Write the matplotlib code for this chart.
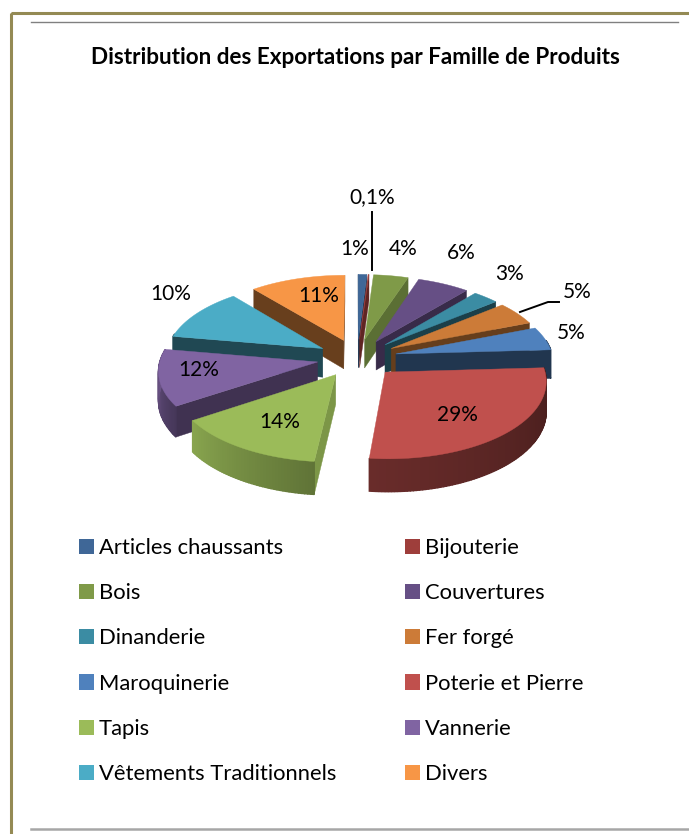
#!/usr/bin/env python3
"""Exploded 3D-look pie of export shares, drawn with polygons in pixel coordinates."""
import matplotlib
matplotlib.use("Agg")
import matplotlib.pyplot as plt
import numpy as np
from matplotlib.colors import to_rgb
from matplotlib.patches import Patch, Polygon, Rectangle

plt.rcParams["font.family"] = ["Lato", "DejaVu Sans"]

TITLE = "Distribution des Exportations par Famille de Produits"
categories = [
    "Articles chaussants", "Bijouterie", "Bois", "Couvertures", "Dinanderie", "Fer forgé",
    "Maroquinerie", "Poterie et Pierre", "Tapis", "Vannerie", "Vêtements Traditionnels", "Divers",
]
shares = [1.0, 0.1, 4.0, 6.0, 3.0, 5.0, 5.0, 27.6, 14.0, 12.0, 11.3, 11.0]
labels = ["1%", "0,1%", "4%", "6%", "3%", "5%", "5%", "29%", "14%", "12%", "10%", "11%"]
colors = ["#3F6797", "#9E3E3B", "#7F9A48", "#664F85", "#3B8CA3", "#CC7B38",
          "#4F81BD", "#C0504D", "#9BBB59", "#8064A2", "#4BACC6", "#F79646"]
wall_tone = [0.55, 0.6, 0.72, 0.55, 0.45, 0.5, 0.42, 0.4, 0.8, 0.5, 0.42, 0.42]
rim_tone = {7: (0.36, 0.55), 8: (0.62, 0.88), 9: (0.55, 0.88)}
label_xy = [(355, 249), (372, 197), (403, 249), (461, 253), (510, 274), (577, 292),
            (571, 333), (457, 415), (280, 422), (199, 370), (171, 294), (319, 296)]

CX, CY = 357, 358
RX, RY = 157, 75
EXPLODE = 0.255
PERSP = 0.1
DEPTH = 29


def project(u, v, drop=0.0):
    s = 1 / (1 + PERSP * v)
    return CX + RX * u * s, CY - RY * v * s + drop * DEPTH * s


def shade(color, tone):
    return tuple(c * tone for c in to_rgb(color))


def cross(a, b):
    return a[0] * b[1] - a[1] * b[0]


def draw_slice(ax, i, a0, a1):
    mid = (a0 + a1) / 2
    ox, oy = EXPLODE * np.sin(mid), EXPLODE * np.cos(mid)
    th = np.linspace(a0, a1, max(4, int(np.degrees(a1 - a0))))
    u = ox + np.sin(th)
    v = oy + np.cos(th)
    tip = np.array(project(ox, oy))
    first = np.array(project(u[0], v[0]))
    last = np.array(project(u[-1], v[-1]))
    wall = shade(colors[i], wall_tone[i])

    # flat cut faces, only where they turn towards the viewer
    for edge, other, ue, ve in ((first, last, u[0], v[0]), (last, first, u[-1], v[-1])):
        d = edge - tip
        if cross(d, (0, 1)) * cross(d, other - tip) < 0:
            quad = [project(ox, oy), project(ue, ve), project(ue, ve, 1), project(ox, oy, 1)]
            ax.add_patch(Polygon(quad, fc=wall, ec=wall, lw=0.3))

    # outer rim, cut into short strips for the gradient
    t0, t1 = rim_tone.get(i, (wall_tone[i], wall_tone[i]))
    for k in range(len(th) - 1):
        if np.cos(th[k]) > 0.2:
            continue
        tone = t0 + (t1 - t0) * k / (len(th) - 1)
        col = shade(colors[i], tone)
        quad = [project(u[k], v[k]), project(u[k + 1], v[k + 1]),
                project(u[k + 1], v[k + 1], 1), project(u[k], v[k], 1)]
        ax.add_patch(Polygon(quad, fc=col, ec=col, lw=1.0))

    top = [project(ox, oy)] + [project(a, b) for a, b in zip(u, v)]
    ax.add_patch(Polygon(top, fc=colors[i], ec=colors[i], lw=0.3))


def main():
    fig = plt.figure(figsize=(6.89, 8.34), dpi=100)
    ax = fig.add_axes([0, 0, 1, 1])
    ax.set_xlim(0, 689)
    ax.set_ylim(834, 0)
    ax.axis("off")

    # page frame and rules
    ax.add_patch(Rectangle((10.5, 12.5), 690, 900, fc="none", ec="#948A54", lw=2.2))
    ax.plot([31, 678], [21.5, 21.5], color="#808080", lw=1.0)
    ax.plot([31, 689], [829, 829], color="#A6A6A6", lw=1.8)

    ax.text(355.5, 57, TITLE, ha="center", va="center", fontsize=16.2, fontweight="bold", color="black")

    edges = np.radians(np.cumsum([0] + shares) * 360 / sum(shares))
    mids = (edges[:-1] + edges[1:]) / 2
    # back slices first so the front ones paint over them
    for i in np.argsort(-np.cos(mids)):
        draw_slice(ax, i, edges[i], edges[i + 1])

    # leader lines
    ax.plot([372, 372], [212, 270], color="black", lw=1.4, zorder=5)
    ax.plot([520, 548, 559], [312, 302, 302], color="black", lw=1.4, zorder=5)

    for lab, (x, y) in zip(labels, label_xy):
        ax.text(x, y, lab, ha="center", va="center", fontsize=15, color="black", zorder=6)

    order = list(range(0, 12, 2)) + list(range(1, 12, 2))
    handles = [Patch(fc=colors[i], ec="none", label=categories[i]) for i in order]
    ax.legend(
        handles=handles, ncol=2, loc="upper left", bbox_to_anchor=(79 / 689, 1 - 538 / 834),
        frameon=False, fontsize=15.8, labelspacing=1.15, columnspacing=3.14,
        handlelength=0.68, handleheight=0.68, handletextpad=0.23, borderpad=0, borderaxespad=0,
    )

    fig.savefig("out.png", dpi=100)


if __name__ == "__main__":
    main()
